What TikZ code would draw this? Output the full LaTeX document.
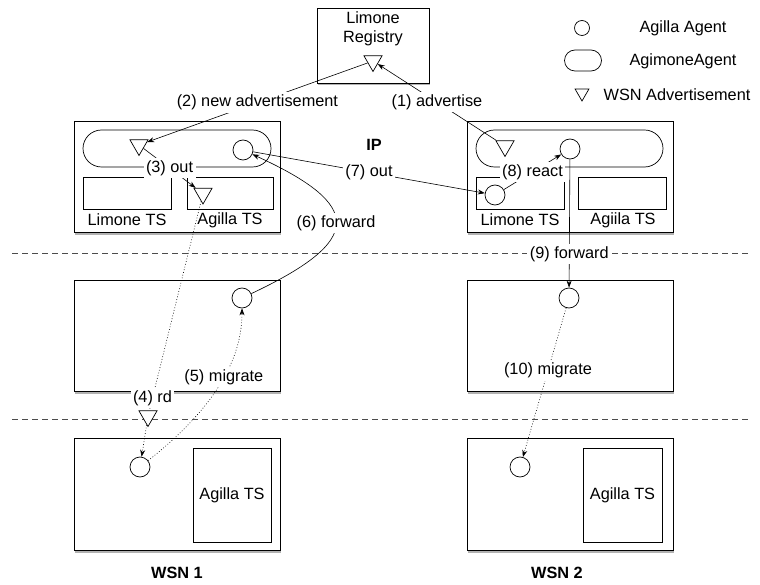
\documentclass[tikz,border=0pt]{standalone}
\usepackage{fontspec}
\setmainfont{Liberation Sans}
\usepackage{tikz}
\usetikzlibrary{shapes.geometric, shapes.misc, arrows.meta, shadows}
\tikzset{
    box/.style={rectangle, draw, line width=0.8pt, fill=white, inner sep=0pt},
    shbox/.style={box, drop shadow={shadow xshift=0.8pt, shadow yshift=-2.5pt, fill=black, opacity=0.3}},
    stadium/.style={rounded rectangle, draw, line width=0.7pt, fill=white, inner sep=0pt},
    agent/.style={circle, draw, line width=0.7pt, fill=white, minimum size=20pt, inner sep=0pt},
    advert/.style={regular polygon, regular polygon sides=3, shape border rotate=180, draw, line width=0.7pt, fill=white, minimum size=21pt, inner sep=0pt},
    txt/.style={inner sep=0pt},
    lbl/.style={fill=white, inner sep=2.5pt},
    flow/.style={->, >={Stealth[length=7pt, width=5pt]}, line width=0.6pt},
    dotflow/.style={flow, dash pattern=on 0.8pt off 2pt},
    sep/.style={black!70, line width=0.6pt, dash pattern=on 6pt off 4pt}
}
\begin{document}
\begin{tikzpicture}[x=1pt, y=-1pt, font=\fontsize{16.3}{19}\selectfont]
    \useasboundingbox (0,0) rectangle (760,585);
    % Layer separators
    \coordinate (sep_ip_a) at (12,253);
    \coordinate (sep_ip_b) at (748,253);
    \coordinate (sep_wsn_a) at (12,419);
    \coordinate (sep_wsn_b) at (748,419);
    \draw[sep] (sep_ip_a) -- (sep_ip_b);
    \draw[sep] (sep_wsn_a) -- (sep_wsn_b);

    % Limone registry
    \node[shbox, minimum width=112pt, minimum height=75pt] (registry) at (373,45.5) {};
    \node[txt, align=center] (registry_text) at (373,29) {Limone\\Registry};
    \node[advert] (adv_reg) at (373,61) {};

    % Legend
    \node[agent, minimum size=15pt] (leg_agent) at (582,28) {};
    \node[txt] (leg_agent_text) at (683,28) {Agilla Agent};
    \node[stadium, minimum width=37pt, minimum height=21pt] (leg_agimone) at (583,60.5) {};
    \node[txt] (leg_agimone_text) at (683,61) {AgimoneAgent};
    \node[advert, minimum size=16pt] (leg_adv) at (582,93) {};
    \node[txt] (leg_adv_text) at (677,95) {WSN Advertisement};

    % IP layer
    \node[txt] (ip_label) at (374,145) {\textbf{IP}};
    \node[shbox, minimum width=206pt, minimum height=111pt] (ip_left) at (177,177) {};
    \node[stadium, minimum width=188pt, minimum height=37pt] (stad_left) at (177,148.5) {};
    \node[advert] (adv_left) at (139,145) {};
    \node[agent] (ag_left) at (243,150) {};
    \node[box, minimum width=88pt, minimum height=32pt] (limts_left) at (127,193) {};
    \node[box, minimum width=86pt, minimum height=32pt] (agts_left) at (230,193) {};
    \node[advert] (adv_agts_left) at (203,193.5) {};
    \node[txt] (limts_left_text) at (127,220) {Limone TS};
    \node[txt] (agts_left_text) at (230,220) {Agilla TS};

    \node[shbox, minimum width=206pt, minimum height=111pt] (ip_right) at (570,177) {};
    \node[stadium, minimum width=187pt, minimum height=37pt] (stad_right) at (569.5,148.5) {};
    \node[advert] (adv_right) at (505,146) {};
    \node[agent] (ag_right) at (570,149) {};
    \node[box, minimum width=88pt, minimum height=32pt] (limts_right) at (520,193) {};
    \node[agent] (ag_limts_right) at (495,195) {};
    \node[box, minimum width=88pt, minimum height=32pt] (agts_right) at (622.5,193) {};
    \node[txt] (limts_right_text) at (520,220) {Limone TS};
    \node[txt] (agts_right_text) at (623,220) {Agiila TS};

    % Middle layer
    \node[shbox, minimum width=206pt, minimum height=111pt] (mid_left) at (177,335.5) {};
    \node[agent] (ag_mid_left) at (242,298) {};
    \node[shbox, minimum width=206pt, minimum height=111pt] (mid_right) at (570,335.5) {};
    \node[agent] (ag_mid_right) at (569,298) {};

    % WSN layer
    \node[shbox, minimum width=206pt, minimum height=112pt] (wsn_left) at (177,494) {};
    \node[box, minimum width=78pt, minimum height=94pt] (agts_wsn_left) at (232,495) {Agilla TS};
    \node[agent] (ag_wsn_left) at (140,467) {};
    \node[txt] (wsn_left_text) at (177,573) {\textbf{WSN 1}};
    \node[shbox, minimum width=206pt, minimum height=112pt] (wsn_right) at (570,494) {};
    \node[box, minimum width=79pt, minimum height=94pt] (agts_wsn_right) at (622.5,495) {Agilla TS};
    \node[agent] (ag_wsn_right) at (520,467) {};
    \node[txt] (wsn_right_text) at (557,573) {\textbf{WSN 2}};
    \node[advert] (adv_rd) at (148,416) {};

    % Flows
    \draw[flow] (adv_right) -- node[lbl] {(1) advertise} (adv_reg);
    \draw[flow] (adv_reg) -- node[lbl] {(2) new advertisement} (adv_left);
    \draw[flow] (adv_left) -- node[lbl] {(3) out} (adv_agts_left);
    \draw[dotflow] (adv_agts_left) -- node[lbl, pos=0.94] {(4) rd} (adv_rd) -- (ag_wsn_left);
    \draw[dotflow] (ag_wsn_left) .. controls (225,400) and (242,350) .. node[lbl] {(5) migrate} (ag_mid_left);
    \draw[flow] (ag_mid_left) .. controls (365,240) and (363,205) .. node[lbl] {(6) forward} (ag_left);
    \draw[flow] (ag_left) -- node[lbl] {(7) out} (ag_limts_right);
    \draw[flow] (ag_limts_right) -- node[lbl] {(8) react} (ag_right);
    \draw[flow] (ag_right) -- node[lbl, pos=0.74] {(9) forward} (ag_mid_right);
    \draw[dotflow] (ag_mid_right) -- node[lbl, pos=0.42] {(10) migrate} (ag_wsn_right);
\end{tikzpicture}
\end{document}
